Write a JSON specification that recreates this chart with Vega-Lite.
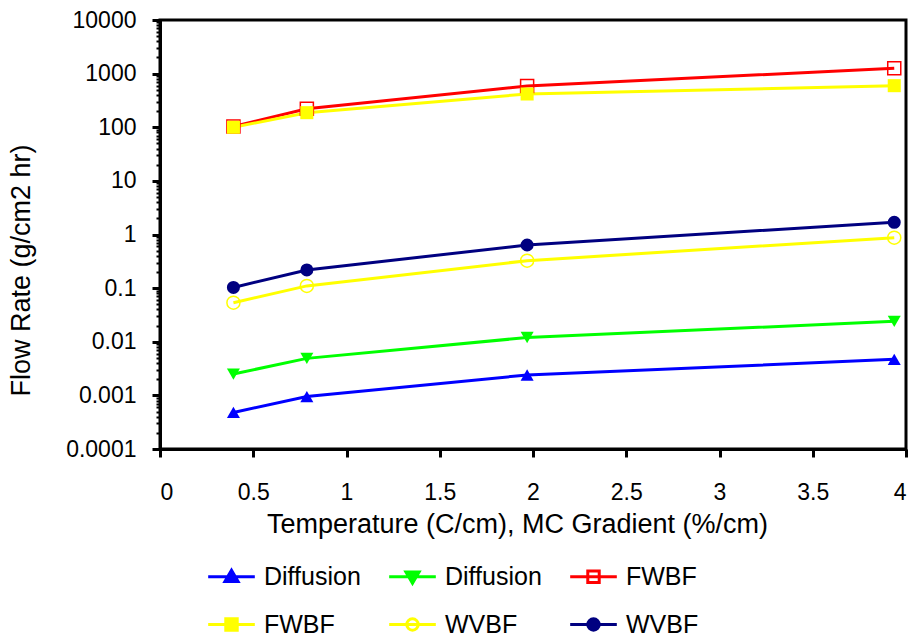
{
  "$schema": "https://vega.github.io/schema/vega-lite/v6.json",
  "width": 746,
  "height": 429,
  "autosize": {"type": "none"},
  "padding": {"left": 160, "top": 20, "right": 9, "bottom": 189},
  "background": "white",
  "config": {
    "font": "Liberation Sans",
    "view": {"stroke": "black", "strokeWidth": 3},
    "axis": {
      "domainColor": "black",
      "domainWidth": 3,
      "tickColor": "black",
      "tickWidth": 3,
      "grid": false,
      "labelFont": "Liberation Sans",
      "labelColor": "black",
      "labelFontSize": 23,
      "titleFont": "Liberation Sans",
      "titleColor": "black",
      "titleFontSize": 27,
      "titleFontWeight": "normal"
    }
  },
  "data": {
    "values": [
      {"series": "Diffusion#1", "x": 0.3937, "y": 0.00048},
      {"series": "Diffusion#1", "x": 0.7874, "y": 0.00095},
      {"series": "Diffusion#1", "x": 1.9685, "y": 0.0024},
      {"series": "Diffusion#1", "x": 3.937, "y": 0.0047},
      {"series": "Diffusion#2", "x": 0.3937, "y": 0.0025},
      {"series": "Diffusion#2", "x": 0.7874, "y": 0.0049},
      {"series": "Diffusion#2", "x": 1.9685, "y": 0.012},
      {"series": "Diffusion#2", "x": 3.937, "y": 0.024},
      {"series": "FWBF#1", "x": 0.3937, "y": 103},
      {"series": "FWBF#1", "x": 0.7874, "y": 222},
      {"series": "FWBF#1", "x": 1.9685, "y": 588},
      {"series": "FWBF#1", "x": 3.937, "y": 1256},
      {"series": "FWBF#2", "x": 0.3937, "y": 100},
      {"series": "FWBF#2", "x": 0.7874, "y": 187},
      {"series": "FWBF#2", "x": 1.9685, "y": 417},
      {"series": "FWBF#2", "x": 3.937, "y": 596},
      {"series": "WVBF#1", "x": 0.3937, "y": 0.0535},
      {"series": "WVBF#1", "x": 0.7874, "y": 0.11},
      {"series": "WVBF#1", "x": 1.9685, "y": 0.325},
      {"series": "WVBF#1", "x": 3.937, "y": 0.873},
      {"series": "WVBF#2", "x": 0.3937, "y": 0.103},
      {"series": "WVBF#2", "x": 0.7874, "y": 0.218},
      {"series": "WVBF#2", "x": 1.9685, "y": 0.637},
      {"series": "WVBF#2", "x": 3.937, "y": 1.69}
    ]
  },
  "encoding": {
    "x": {
      "field": "x",
      "type": "quantitative",
      "scale": {"domain": [0, 4], "nice": false, "zero": false},
      "axis": {
        "values": [0, 0.5, 1, 1.5, 2, 2.5, 3, 3.5, 4],
        "format": "~g",
        "tickSize": 8,
        "labelPadding": 24,
        "title": "Temperature (C/cm), MC Gradient (%/cm)",
        "titleX": 357,
        "titleY": 75,
        "titleBaseline": "middle",
        "titleAnchor": null,
        "titleAlign": "center"
      }
    },
    "y": {
      "field": "y",
      "type": "quantitative",
      "scale": {"type": "log", "domain": [0.0001, 10000], "nice": false},
      "axis": {
        "values": [
          0.0001, 0.0002, 0.0003, 0.0004, 0.0005, 0.0006, 0.0007, 0.0008, 0.0009,
          0.001, 0.002, 0.003, 0.004, 0.005, 0.006, 0.007, 0.008, 0.009,
          0.01, 0.02, 0.03, 0.04, 0.05, 0.06, 0.07, 0.08, 0.09,
          0.1, 0.2, 0.3, 0.4, 0.5, 0.6, 0.7, 0.8, 0.9,
          1, 2, 3, 4, 5, 6, 7, 8, 9,
          10, 20, 30, 40, 50, 60, 70, 80, 90,
          100, 200, 300, 400, 500, 600, 700, 800, 900,
          1000, 2000, 3000, 4000, 5000, 6000, 7000, 8000, 9000,
          10000
        ],
        "labelExpr": "abs(log(datum.value)/LN10 - round(log(datum.value)/LN10)) < 0.001 ? format(datum.value, '~g') : ''",
        "tickSize": {
          "condition": {"test": "abs(log(datum.value)/LN10 - round(log(datum.value)/LN10)) < 0.001", "value": 8},
          "value": 4
        },
        "tickWidth": {
          "condition": {"test": "abs(log(datum.value)/LN10 - round(log(datum.value)/LN10)) < 0.001", "value": 3},
          "value": 2
        },
        "labelPadding": 16,
        "labelOverlap": false,
        "title": "Flow Rate (g/cm2 hr)",
        "titleX": -139,
        "titleY": 250,
        "titleAngle": -90,
        "titleBaseline": "middle",
        "titleAlign": "center",
        "titleAnchor": null
      }
    }
  },
  "layer": [
    {
      "mark": {"type": "line", "strokeWidth": 3},
      "encoding": {
        "color": {
          "field": "series",
          "type": "nominal",
          "scale": {
            "domain": ["Diffusion#1", "Diffusion#2", "FWBF#1", "FWBF#2", "WVBF#1", "WVBF#2"],
            "range": ["#0000FF", "#00FF00", "#FF0000", "#FFFF00", "#FFFF00", "#000080"]
          },
          "legend": {
            "orient": "none",
            "legendX": 48,
            "legendY": 533,
            "direction": "horizontal",
            "columns": 3,
            "title": null,
            "padding": 0,
            "labelExpr": "split(datum.label, '#')[0]",
            "labelFont": "Liberation Sans",
            "labelFontSize": 25,
            "labelColor": "black",
            "labelOffset": 9,
            "labelLimit": 300,
            "symbolSize": 1936,
            "symbolStrokeWidth": 3,
            "columnPadding": 22,
            "rowPadding": 11,
            "encode": {
              "symbols": {
                "update": {
                  "shape": {"signal": "['M-1.06,0H1.06M0,-0.3L0.3,0.22L-0.3,0.22Z', 'M-1.06,0H1.06M0,0.3L0.3,-0.22L-0.3,-0.22Z', 'M-1.06,0H1.06M-0.26,-0.26H0.26V0.26H-0.26Z', 'M-1.06,0H1.06M-0.26,-0.26H0.26V0.26H-0.26Z', 'M-1.06,0H1.06M-0.26,0A0.26,0.26 0 1,0 0.26,0A0.26,0.26 0 1,0 -0.26,0Z', 'M-1.06,0H1.06M-0.26,0A0.26,0.26 0 1,0 0.26,0A0.26,0.26 0 1,0 -0.26,0Z'][indexof(['Diffusion#1', 'Diffusion#2', 'FWBF#1', 'FWBF#2', 'WVBF#1', 'WVBF#2'], datum.value)]"},
                  "fill": {"signal": "['#0000FF', '#00FF00', 'transparent', '#FFFF00', 'transparent', '#000080'][indexof(['Diffusion#1', 'Diffusion#2', 'FWBF#1', 'FWBF#2', 'WVBF#1', 'WVBF#2'], datum.value)]"},
                  "stroke": {"signal": "['#0000FF', '#00FF00', '#FF0000', '#FFFF00', '#FFFF00', '#000080'][indexof(['Diffusion#1', 'Diffusion#2', 'FWBF#1', 'FWBF#2', 'WVBF#1', 'WVBF#2'], datum.value)]"},
                  "opacity": {"value": 1}
                }
              }
            }
          }
        }
      }
    },
    {
      "transform": [{"filter": "datum.series === 'Diffusion#1'"}],
      "mark": {"type": "point", "shape": "triangle-up", "size": 170, "filled": true, "color": "#0000FF", "opacity": 1}
    },
    {
      "transform": [{"filter": "datum.series === 'Diffusion#2'"}],
      "mark": {"type": "point", "shape": "triangle-down", "size": 170, "filled": true, "color": "#00FF00", "opacity": 1}
    },
    {
      "transform": [{"filter": "datum.series === 'FWBF#1'"}],
      "mark": {"type": "point", "shape": "square", "size": 170, "filled": false, "stroke": "#FF0000", "fill": "transparent", "strokeWidth": 1.5, "opacity": 1}
    },
    {
      "transform": [{"filter": "datum.series === 'FWBF#2'"}],
      "mark": {"type": "point", "shape": "square", "size": 170, "filled": true, "color": "#FFFF00", "opacity": 1}
    },
    {
      "transform": [{"filter": "datum.series === 'WVBF#1'"}],
      "mark": {"type": "point", "shape": "circle", "size": 170, "filled": false, "stroke": "#FFFF00", "fill": "transparent", "strokeWidth": 1.5, "opacity": 1}
    },
    {
      "transform": [{"filter": "datum.series === 'WVBF#2'"}],
      "mark": {"type": "point", "shape": "circle", "size": 170, "filled": true, "color": "#000080", "opacity": 1}
    }
  ]
}
